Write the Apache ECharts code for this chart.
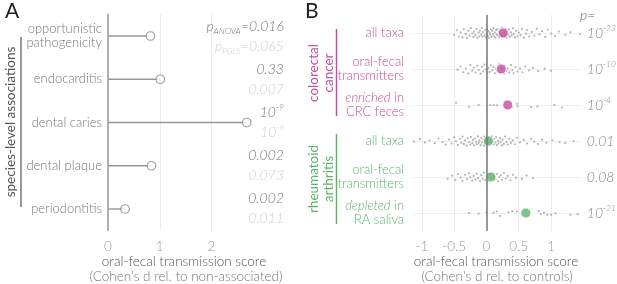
<!DOCTYPE html>
<html>
<head>
<meta charset="utf-8">
<script src="https://cdn.jsdelivr.net/npm/echarts@6/dist/echarts.min.js"></script>
<style>
html, body { margin: 0; padding: 0; background: #fff; }
#chart { width: 617px; height: 284px; }
</style>
</head>
<body>
<div id="chart"></div>
<script>
// ---- panel A data ----
var assocCats = ['opportunistic\npathogenicity', 'endocarditis', 'dental caries', 'dental plaque', 'periodontitis'];
var assocScore = [0.82, 1.01, 2.68, 0.84, 0.33];
var pAnova = ['0.016', '0.33', '1e-9', '0.002', '0.002'];
var pPgls = ['0.065', '0.007', '1e-6', '0.073', '0.011'];
var ticksA = [0, 1, 2];

// ---- panel B data ----
var rowLabels = ['all taxa', 'oral-fecal\ntransmitters', '*enriched* in\nCRC feces',
                 'all taxa', 'oral-fecal\ntransmitters', '*depleted* in\nRA saliva'];
var rowMeans = [0.26, 0.23, 0.33, 0.03, 0.07, 0.61];
var pB = ['1e-23', '1e-10', '1e-4', '0.01', '0.08', '1e-21'];
var ticksB = [-1, -0.5, 0, 0.5, 1];

// taxa points: [score, vertical jitter]
var crcAll = [
  [-0.50,0.05],[-0.46,-0.08],[-0.43,0.10],[-0.40,-0.02],[-0.37,0.12],[-0.35,-0.10],[-0.32,0.03],[-0.30,0.14],
  [-0.28,-0.06],[-0.26,0.08],[-0.24,-0.13],[-0.22,0.01],[-0.20,0.11],[-0.19,-0.04],[-0.17,0.06],[-0.15,-0.11],
  [-0.14,0.13],[-0.12,-0.01],[-0.11,0.09],[-0.10,-0.07],[-0.08,0.04],[-0.07,-0.14],[-0.06,0.10],[-0.05,-0.03],
  [-0.03,0.07],[-0.02,-0.09],[-0.01,0.12],[0.00,0.02],[0.01,-0.12],[0.02,0.08],[0.03,-0.05],[0.04,0.14],
  [0.05,-0.01],[0.06,0.05],[0.07,-0.10],[0.08,0.11],[0.09,-0.06],[0.10,0.03],[0.11,-0.13],[0.12,0.09],
  [0.13,-0.02],[0.14,0.13],[0.15,-0.08],[0.16,0.04],[0.17,-0.11],[0.18,0.07],[0.19,-0.04],[0.20,0.12],
  [0.21,0.00],[0.22,-0.09],[0.23,0.06],[0.24,-0.14],[0.25,0.10],[0.27,-0.03],[0.28,0.08],[0.29,-0.12],
  [0.30,0.02],[0.31,0.13],[0.32,-0.07],[0.34,0.05],[0.35,-0.10],[0.36,0.11],[0.38,-0.02],[0.39,0.07],
  [0.41,-0.13],[0.42,0.03],[0.44,0.12],[0.46,-0.06],[0.48,0.09],[0.50,-0.01],[0.53,0.06],[0.55,-0.11],
  [0.58,0.13],[0.61,0.02],[0.63,-0.08],[0.66,0.10],[0.70,-0.03],[0.74,0.07],[0.78,-0.12],[0.82,0.04],
  [0.86,-0.05],[0.91,0.11],[0.95,-0.09],[1.00,0.02],[1.06,0.08],[1.12,-0.04],[1.22,0.05],[1.30,-0.02],[1.45,0.03]
];
var crcOral = [
  [-0.45,0.02],[-0.40,-0.07],[-0.36,0.09],[-0.32,-0.02],[-0.28,0.12],[-0.25,-0.11],[-0.22,0.05],[-0.19,-0.04],
  [-0.17,0.10],[-0.14,-0.09],[-0.12,0.03],[-0.09,0.13],[-0.07,-0.06],[-0.05,0.07],[-0.03,-0.12],[-0.01,0.01],
  [0.01,0.11],[0.03,-0.03],[0.05,0.08],[0.07,-0.10],[0.09,0.04],[0.11,-0.05],[0.13,0.12],[0.15,-0.01],
  [0.17,0.06],[0.19,-0.13],[0.21,0.09],[0.23,-0.04],[0.25,0.02],[0.27,0.13],[0.29,-0.08],[0.31,0.05],
  [0.33,-0.02],[0.35,0.10],[0.38,-0.11],[0.40,0.03],[0.42,0.12],[0.45,-0.05],[0.48,0.07],[0.52,-0.02],
  [0.56,0.09],[0.60,-0.07],[0.66,0.04],[0.72,-0.03],[0.80,0.06],[0.90,-0.01],[1.00,0.05]
];
var crcEnriched = [
  [-0.47,-0.06],[-0.27,0.05],[-0.12,0.00],[0.06,0.00],[0.11,0.00],[0.16,0.01],[0.28,-0.09],
  [0.40,0.06],[0.47,-0.03],[0.48,0.04],[0.69,0.06],[0.79,0.04],[1.05,0.00],[1.17,0.07]
];
var raAll = [
  [-1.12,0.02],[-1.03,-0.05],[-0.95,0.04],[-0.88,-0.02],[-0.80,0.06],[-0.74,-0.07],[-0.68,0.03],[-0.63,0.10],
  [-0.58,-0.04],[-0.54,0.07],[-0.50,-0.10],[-0.47,0.01],[-0.44,0.11],[-0.41,-0.06],[-0.39,0.05],[-0.37,-0.12],
  [-0.35,0.08],[-0.33,-0.02],[-0.31,0.13],[-0.29,-0.08],[-0.27,0.03],[-0.25,0.10],[-0.24,-0.11],[-0.22,0.06],
  [-0.21,-0.03],[-0.19,0.12],[-0.18,-0.07],[-0.16,0.02],[-0.15,0.09],[-0.13,-0.13],[-0.12,0.05],[-0.11,-0.01],
  [-0.09,0.11],[-0.08,-0.09],[-0.07,0.04],[-0.05,-0.04],[-0.04,0.13],[-0.03,-0.12],[-0.02,0.07],[-0.01,-0.02],
  [0.00,0.10],[0.01,-0.07],[0.02,0.03],[0.04,-0.10],[0.05,0.12],[0.06,-0.03],[0.07,0.06],[0.08,-0.13],
  [0.10,0.01],[0.11,0.09],[0.12,-0.06],[0.14,0.04],[0.15,-0.11],[0.16,0.11],[0.18,-0.01],[0.19,0.07],
  [0.21,-0.08],[0.22,0.02],[0.24,0.12],[0.25,-0.04],[0.27,0.08],[0.29,-0.12],[0.31,0.03],[0.33,0.10],
  [0.35,-0.06],[0.38,0.05],[0.41,-0.02],[0.44,0.09],[0.47,-0.09],[0.52,0.04],[0.58,-0.03],[0.63,0.07],
  [0.69,-0.06],[0.74,0.02],[0.80,0.08],[0.86,-0.04],[0.93,0.05],[1.02,-0.02],[1.13,0.03],[1.22,0.06],[1.35,0.01]
];
var raOral = [
  [-0.60,0.05],[-0.53,-0.04],[-0.48,0.08],[-0.44,-0.08],[-0.40,0.02],[-0.37,0.11],[-0.33,-0.06],[-0.30,0.06],
  [-0.27,-0.11],[-0.25,0.01],[-0.22,0.10],[-0.20,-0.03],[-0.17,0.07],[-0.15,-0.09],[-0.13,0.03],[-0.10,0.12],
  [-0.08,-0.05],[-0.06,0.05],[-0.04,-0.12],[-0.02,0.08],[0.00,-0.02],[0.02,0.11],[0.04,-0.07],[0.06,0.03],
  [0.08,-0.10],[0.10,0.09],[0.12,-0.01],[0.14,0.06],[0.16,-0.08],[0.18,0.12],[0.20,0.00],[0.22,-0.05],
  [0.24,0.08],[0.27,-0.11],[0.30,0.04],[0.33,-0.03],[0.37,0.09],[0.41,-0.06],[0.46,0.02],[0.55,0.05],
  [0.62,-0.04],[0.72,0.03]
];
var raDepleted = [
  [-0.27,0.00],[-0.12,0.02],[0.00,-0.02],[0.11,-0.01],[0.16,-0.04],[0.21,0.08],[0.34,-0.02],[0.40,-0.05],
  [0.47,-0.04],[0.81,-0.05],[0.84,0.03],[0.89,-0.01],[0.94,0.05],[1.00,0.05],[1.07,0.01],[1.30,0.05],[1.41,0.03]
];
var taxaRows = [crcAll, crcOral, crcEnriched, raAll, raOral, raDepleted];

var MAG = '#c2519d';
var GRN = '#5bb56c';
var FONT = 'Lato, "Helvetica Neue", Arial, sans-serif';
var W = 300;
var maxA = 3.4, minB = -1.15, maxB = 1.46;

var dots = [];
taxaRows.forEach(function (row, i) {
    row.forEach(function (p) { dots.push([p[0], i + p[1]]); });
});

function fmtP(s, k) {
    if (s.indexOf('1e') === 0) {
        return '{' + k + '|10}{' + k + 's|' + s.slice(2) + '}';
    }
    return '{' + k + '|' + s + '}';
}

function fmtRow(label, idx) {
    var c = idx < 3 ? 'm' : 'g';
    return label.split('\n').map(function (line) {
        return line.split('*').map(function (seg, k) {
            return seg ? '{' + c + (k % 2 ? 'i' : '') + '|' + seg + '}' : '';
        }).join('');
    }).join('\n');
}

function txt(color, size, extra) {
    var s = { color: color, fontSize: size, fontFamily: FONT, fontWeight: W };
    for (var k in extra) s[k] = extra[k];
    return s;
}

var myChart = echarts.init(document.getElementById('chart'));

var option = {
    animation: false,
    textStyle: { fontFamily: FONT, fontWeight: W },
    grid: [
        { left: 108, top: 14.4, width: 176, height: 216.2 },
        { left: 412.1, top: 15, width: 168.7, height: 216 }
    ],
    xAxis: [
        {
            gridIndex: 0, type: 'value', min: 0, max: maxA,
            axisLine: { show: false },
            axisTick: { show: false, customValues: ticksA },
            axisLabel: { customValues: ticksA, color: '#999', fontSize: 13.5, fontWeight: W, margin: 9 },
            splitLine: { lineStyle: { color: '#ececec' } }
        },
        {
            gridIndex: 1, type: 'value', min: minB, max: maxB,
            axisLine: { show: false },
            axisTick: { show: false, customValues: ticksB },
            axisLabel: { customValues: ticksB, color: '#999', fontSize: 13.5, fontWeight: W, margin: 9 },
            splitLine: { lineStyle: { color: '#ececec' } }
        }
    ],
    yAxis: [
        {
            gridIndex: 0, type: 'category', inverse: true, data: assocCats,
            axisLine: { lineStyle: { color: '#999', width: 1.5 } },
            axisTick: { show: false },
            axisLabel: { color: '#777', fontSize: 13, fontWeight: W, lineHeight: 14, margin: 6 }
        },
        {
            gridIndex: 1, type: 'value', min: -0.5, max: 5.5, inverse: true,
            axisLine: { show: false },
            axisTick: { show: false, customValues: [0, 1, 2, 3, 4, 5] },
            axisLabel: { show: false },
            splitLine: { lineStyle: { color: '#efefef' } }
        },
        {
            gridIndex: 1, type: 'category', position: 'left', inverse: true, data: rowLabels,
            axisLine: { show: false },
            axisTick: { show: false },
            axisLabel: {
                margin: 8,
                formatter: fmtRow,
                rich: {
                    m: txt(MAG, 13, { lineHeight: 14 }),
                    mi: txt(MAG, 13, { lineHeight: 14, fontStyle: 'italic' }),
                    g: txt(GRN, 13, { lineHeight: 14 }),
                    gi: txt(GRN, 13, { lineHeight: 14, fontStyle: 'italic' })
                }
            }
        }
    ],
    series: [
        {
            type: 'bar', xAxisIndex: 0, yAxisIndex: 0, silent: true,
            data: assocScore, barWidth: 1.4,
            itemStyle: { color: '#999' }
        },
        {
            type: 'scatter', xAxisIndex: 0, yAxisIndex: 0, silent: true,
            data: assocScore.map(function (v, i) { return [v, i]; }),
            symbolSize: 8.5,
            itemStyle: { color: '#fff', borderColor: '#888', borderWidth: 1.2 },
            z: 3
        },
        {
            type: 'scatter', xAxisIndex: 0, yAxisIndex: 0, silent: true,
            data: pAnova.map(function (v, i) { return [maxA, i]; }),
            symbolSize: 0.1, itemStyle: { color: 'transparent' },
            label: {
                show: true, position: 'left', distance: 0, align: 'right',
                formatter: function (p) {
                    var i = p.dataIndex;
                    if (i === 0) {
                        return '{d|p}{dsub|ANOVA}{d|=' + pAnova[0] + '}\n{l|p}{lsub|PGLS}{l|=' + pPgls[0] + '}';
                    }
                    return fmtP(pAnova[i], 'd') + '\n' + fmtP(pPgls[i], 'l');
                },
                rich: {
                    d: txt('#555', 14, { fontStyle: 'italic', lineHeight: 20 }),
                    ds: txt('#555', 8.5, { fontStyle: 'italic', verticalAlign: 'top', lineHeight: 13 }),
                    dsub: txt('#555', 8.5, { fontStyle: 'italic', verticalAlign: 'bottom', lineHeight: 12 }),
                    l: txt('#c6c6c6', 14, { fontStyle: 'italic', lineHeight: 20 }),
                    ls: txt('#c6c6c6', 8.5, { fontStyle: 'italic', verticalAlign: 'top', lineHeight: 13 }),
                    lsub: txt('#c6c6c6', 8.5, { fontStyle: 'italic', verticalAlign: 'bottom', lineHeight: 12 })
                }
            }
        },
        {
            type: 'scatter', xAxisIndex: 1, yAxisIndex: 1, silent: true,
            data: dots, symbolSize: 2.2,
            itemStyle: { color: '#a8a8a8', opacity: 0.85 },
            markLine: {
                silent: true, symbol: 'none', label: { show: false },
                lineStyle: { color: '#777', width: 1.5, type: 'solid' },
                data: [{ xAxis: 0 }]
            }
        },
        {
            type: 'scatter', xAxisIndex: 1, yAxisIndex: 1, silent: true,
            data: rowMeans.map(function (v, i) { return [v, i]; }),
            symbolSize: 10,
            itemStyle: {
                color: function (p) { return p.dataIndex < 3 ? MAG : GRN; },
                borderColor: '#fff', borderWidth: 1
            },
            z: 4
        },
        {
            type: 'scatter', xAxisIndex: 1, yAxisIndex: 1, silent: true,
            data: pB.map(function (v, i) { return [maxB, i]; }),
            symbolSize: 0.1, itemStyle: { color: 'transparent' },
            label: {
                show: true, position: 'right', distance: 6,
                formatter: function (p) { return fmtP(pB[p.dataIndex], 'b'); },
                rich: {
                    b: txt('#666', 14, { fontStyle: 'italic', lineHeight: 18 }),
                    bs: txt('#666', 8.5, { fontStyle: 'italic', verticalAlign: 'top', lineHeight: 11 })
                }
            }
        }
    ],
    graphic: [
        { type: 'text', left: 5, top: 1, style: { text: 'A', font: '21px ' + FONT, fill: '#222' } },
        { type: 'text', left: 305, top: 1, style: { text: 'B', font: '21px ' + FONT, fill: '#222' } },
        {
            type: 'text', x: 11, y: 122, rotation: Math.PI / 2,
            style: { text: 'species-level associations', font: '13.5px ' + FONT, fill: '#555', textAlign: 'center', textVerticalAlign: 'middle' }
        },
        { type: 'line', shape: { x1: 21, y1: 37, x2: 21, y2: 207 }, style: { stroke: '#555', lineWidth: 1.2 } },
        {
            type: 'text', x: 321, y: 73, rotation: Math.PI / 2,
            style: { text: 'colorectal\ncancer', font: '13.5px ' + FONT, lineHeight: 15, fill: MAG, textAlign: 'center', textVerticalAlign: 'middle' }
        },
        { type: 'line', shape: { x1: 336.5, y1: 29, x2: 336.5, y2: 116 }, style: { stroke: MAG, lineWidth: 1.5 } },
        {
            type: 'text', x: 321, y: 179, rotation: Math.PI / 2,
            style: { text: 'rheumatoid\narthritis', font: '13.5px ' + FONT, lineHeight: 15, fill: GRN, textAlign: 'center', textVerticalAlign: 'middle' }
        },
        { type: 'line', shape: { x1: 336.5, y1: 134, x2: 336.5, y2: 224 }, style: { stroke: GRN, lineWidth: 1.5 } },
        { type: 'text', x: 580, y: 15, style: { text: 'p=', font: 'italic 300 14px ' + FONT, fill: '#666', textVerticalAlign: 'middle' } },
        { type: 'text', x: 184, y: 262, style: { text: 'oral-fecal transmission score', font: '300 13.5px ' + FONT, fill: '#555', textAlign: 'center', textVerticalAlign: 'middle' } },
        { type: 'text', x: 186, y: 277, style: { text: '(Cohen\'s d rel. to non-associated)', font: '300 13.5px ' + FONT, fill: '#777', textAlign: 'center', textVerticalAlign: 'middle' } },
        { type: 'text', x: 496, y: 262, style: { text: 'oral-fecal transmission score', font: '300 13.5px ' + FONT, fill: '#555', textAlign: 'center', textVerticalAlign: 'middle' } },
        { type: 'text', x: 497, y: 277, style: { text: '(Cohen\'s d rel. to controls)', font: '300 13.5px ' + FONT, fill: '#777', textAlign: 'center', textVerticalAlign: 'middle' } }
    ]
};

myChart.setOption(option);
</script>
</body>
</html>
